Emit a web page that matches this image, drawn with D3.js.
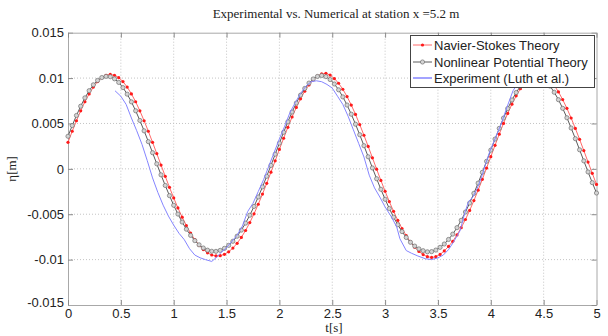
<!DOCTYPE html>
<html>
<head>
<meta charset="utf-8">
<script src="https://cdn.jsdelivr.net/npm/d3@7"></script>
<style>
  body { margin: 0; background: #fff; }
  .gridline { stroke: #c4c4c4; stroke-width: 1; stroke-dasharray: 1,2; }
  .tick-label { font-family: "Liberation Sans", Arial, sans-serif; font-size: 13px; fill: #222; }
</style>
</head>
<body>
<div id="chart"></div>
<script>
// time step of the simulated series (s)
var dtSim = 0.04;

var navierStokes = [
  0.00292, 0.00414, 0.00530, 0.00639, 0.00739, 0.00826, 0.00901, 0.00961, 0.01005, 0.01031,
  0.01040, 0.01031, 0.01005, 0.00961, 0.00901, 0.00826, 0.00739, 0.00639, 0.00530, 0.00414,
  0.00292, 0.00168, 0.00042, -0.00082, -0.00204, -0.00320, -0.00430, -0.00532, -0.00625, -0.00708,
  -0.00780, -0.00841, -0.00889, -0.00925, -0.00949, -0.00959, -0.00957, -0.00942, -0.00914, -0.00873,
  -0.00820, -0.00755, -0.00679, -0.00592, -0.00495, -0.00390, -0.00278, -0.00160, -0.00037, 0.00088,
  0.00214, 0.00337, 0.00457, 0.00571, 0.00677, 0.00772, 0.00856, 0.00925, 0.00981, 0.01022,
  0.01046, 0.01052, 0.01033, 0.00995, 0.00943, 0.00877, 0.00796, 0.00703, 0.00600, 0.00488,
  0.00370, 0.00247, 0.00122, -0.00004, -0.00127, -0.00247, -0.00361, -0.00468, -0.00567, -0.00657,
  -0.00736, -0.00806, -0.00864, -0.00910, -0.00945, -0.00968, -0.00976, -0.00968, -0.00943, -0.00904,
  -0.00855, -0.00798, -0.00728, -0.00648, -0.00558, -0.00458, -0.00350, -0.00235, -0.00115, 0.00009,
  0.00134, 0.00259, 0.00382, 0.00500, 0.00611, 0.00713, 0.00804, 0.00883, 0.00947, 0.00995,
  0.01026, 0.01039, 0.01035, 0.01013, 0.00974, 0.00919, 0.00848, 0.00763, 0.00667, 0.00560,
  0.00445, 0.00325, 0.00201, 0.00075, -0.00049, -0.00172
];

var nonlinearPotential = [
  0.00359, 0.00477, 0.00588, 0.00690, 0.00782, 0.00861, 0.00926, 0.00974, 0.01006, 0.01019,
  0.01015, 0.00992, 0.00952, 0.00895, 0.00823, 0.00738, 0.00640, 0.00533, 0.00419, 0.00300,
  0.00178, 0.00055, -0.00066, -0.00183, -0.00295, -0.00401, -0.00498, -0.00586, -0.00665, -0.00733,
  -0.00791, -0.00837, -0.00872, -0.00896, -0.00908, -0.00909, -0.00898, -0.00876, -0.00843, -0.00798,
  -0.00742, -0.00675, -0.00598, -0.00511, -0.00414, -0.00310, -0.00199, -0.00082, 0.00038, 0.00161,
  0.00283, 0.00403, 0.00518, 0.00626, 0.00725, 0.00812, 0.00886, 0.00945, 0.00990, 0.01018,
  0.01028, 0.01016, 0.00984, 0.00935, 0.00871, 0.00793, 0.00703, 0.00602, 0.00492, 0.00376,
  0.00255, 0.00133, 0.00010, -0.00109, -0.00225, -0.00335, -0.00437, -0.00532, -0.00616, -0.00691,
  -0.00756, -0.00809, -0.00851, -0.00882, -0.00902, -0.00914, -0.00912, -0.00895, -0.00865, -0.00828,
  -0.00778, -0.00719, -0.00648, -0.00567, -0.00476, -0.00377, -0.00270, -0.00157, -0.00038, 0.00083,
  0.00206, 0.00328, 0.00446, 0.00559, 0.00664, 0.00759, 0.00841, 0.00910, 0.00963, 0.00999,
  0.01018, 0.01018, 0.01000, 0.00964, 0.00912, 0.00844, 0.00762, 0.00667, 0.00563, 0.00450,
  0.00332, 0.00210, 0.00088, -0.00034, -0.00152, -0.00266
];

var expTime = [
  0.445, 0.50, 0.55, 0.60, 0.65, 0.70, 0.75, 0.80, 0.85, 0.90, 0.95, 1.00, 1.05, 1.10, 1.15,
  1.20, 1.25, 1.30, 1.36, 1.40, 1.45, 1.49, 1.55, 1.60, 1.65, 1.70, 1.75, 1.80, 1.85, 1.90,
  1.95, 2.00, 2.05, 2.10, 2.15, 2.20, 2.25, 2.30, 2.35, 2.40, 2.45, 2.50, 2.55, 2.60, 2.65,
  2.70, 2.75, 2.80, 2.85, 2.90, 2.95, 3.00, 3.06, 3.11, 3.14, 3.20, 3.25, 3.31, 3.38, 3.44,
  3.50, 3.55, 3.60, 3.645, 3.71, 3.755, 3.79, 3.83, 3.87, 3.91, 3.95, 3.99, 4.05, 4.10, 4.15,
  4.21, 4.26, 4.30
];
var expEta = [
  0.0086, 0.0080, 0.0071, 0.0056, 0.0042, 0.0027, 0.0009, -0.0010, -0.0026, -0.0040, -0.0052, -0.0062, -0.0071, -0.0078, -0.0088,
  -0.0095, -0.0098, -0.0100, -0.0102, -0.0098, -0.0092, -0.0088, -0.0080, -0.0073, -0.0063, -0.0047, -0.0038, -0.0025, -0.0012, 0.0003,
  0.0018, 0.0033, 0.0047, 0.0062, 0.0073, 0.0083, 0.0091, 0.0096, 0.0097, 0.0096, 0.0093, 0.0089, 0.0080, 0.0071, 0.0058,
  0.0043, 0.0028, 0.0013, -0.0007, -0.0021, -0.0031, -0.0042, -0.0053, -0.0064, -0.0077, -0.0090, -0.0093, -0.0096, -0.0099, -0.0100,
  -0.0098, -0.0095, -0.0089, -0.0081, -0.0068, -0.0048, -0.0036, -0.0031, -0.0022, -0.0010, 0.0005, 0.0019, 0.0036, 0.0050, 0.0067,
  0.0086, 0.0095, 0.0099
];

var xTicks = [0, 0.5, 1, 1.5, 2, 2.5, 3, 3.5, 4, 4.5, 5];
var yTicks = [-0.015, -0.01, -0.005, 0, 0.005, 0.01, 0.015];
var seriesNames = ["Navier-Stokes Theory", "Nonlinear Potential Theory", "Experiment (Luth et al.)"];

function drawChart() {
  var width = 608, height = 336;
  var pl = 68, pr = 596.5, pt = 32.7, pb = 305;

  var svg = d3.select("#chart")
    .append("svg")
    .attr("width", width)
    .attr("height", height)
    .style("background", "white");

  var x = d3.scaleLinear().domain([0, 5]).range([pl, pr]);
  var y = d3.scaleLinear().domain([-0.015, 0.015]).range([pb, pt]);

  // grid
  svg.append("g").selectAll("line")
    .data(xTicks.slice(1, -1))
    .enter().append("line")
    .attr("class", "gridline")
    .attr("x1", d => x(d)).attr("x2", d => x(d))
    .attr("y1", pt).attr("y2", pb);

  svg.append("g").selectAll("line")
    .data(yTicks.slice(1, -1))
    .enter().append("line")
    .attr("class", "gridline")
    .attr("x1", pl).attr("x2", pr)
    .attr("y1", d => y(d)).attr("y2", d => y(d));

  // axes (matlab style, ticks inside, all four sides)
  var fmtY = function (d) { return d === 0 ? "0" : String(+d.toFixed(3)); };

  var axL = svg.append("g").attr("transform", "translate(" + pl + ",0)")
    .call(d3.axisLeft(y).tickValues(yTicks).tickFormat(fmtY).tickSizeInner(-5).tickSizeOuter(0).tickPadding(4));
  var axB = svg.append("g").attr("transform", "translate(0," + pb + ")")
    .call(d3.axisBottom(x).tickValues(xTicks).tickFormat(d3.format("")).tickSizeInner(-5).tickSizeOuter(0).tickPadding(4));
  var axR = svg.append("g").attr("transform", "translate(" + pr + ",0)")
    .call(d3.axisRight(y).tickValues(yTicks).tickFormat("").tickSizeInner(-5).tickSizeOuter(0));
  var axT = svg.append("g").attr("transform", "translate(0," + pt + ")")
    .call(d3.axisTop(x).tickValues(xTicks).tickFormat("").tickSizeInner(-5).tickSizeOuter(0));

  [axL, axB, axR, axT].forEach(function (a) {
    a.select(".domain").attr("stroke", "#a8a8a8");
    a.selectAll(".tick line").attr("stroke", "#8a8a8a");
    a.selectAll("text").attr("class", "tick-label").attr("fill", "#222");
  });
  axL.select(".tick:first-of-type text").attr("dy", "0.1em");

  // data
  var simPts = function (vals) {
    return vals.map(function (v, i) { return { t: i * dtSim, v: v }; });
  };
  var red = simPts(navierStokes);
  var gray = simPts(nonlinearPotential);
  var blue = expTime.map(function (t, i) { return { t: t, v: expEta[i] }; });

  var line = d3.line().x(d => x(d.t)).y(d => y(d.v));

  svg.append("path").datum(red)
    .attr("fill", "none").attr("stroke", "#ff6a6a").attr("stroke-width", 1).attr("d", line);
  svg.append("g").selectAll("circle")
    .data(red).enter().append("circle")
    .attr("cx", d => x(d.t)).attr("cy", d => y(d.v)).attr("r", 1.6)
    .attr("fill", "#ff1a1a");

  svg.append("path").datum(gray)
    .attr("fill", "none").attr("stroke", "#5c5c5c").attr("stroke-width", 1).attr("d", line);
  svg.append("g").selectAll("circle")
    .data(gray).enter().append("circle")
    .attr("cx", d => x(d.t)).attr("cy", d => y(d.v)).attr("r", 2.1)
    .attr("fill", "#d4d4d4").attr("stroke", "#707070").attr("stroke-width", 0.7);

  svg.append("path").datum(blue)
    .attr("fill", "none").attr("stroke", "#8585ff").attr("stroke-width", 1).attr("d", line);

  // legend
  var lg = svg.append("g");
  lg.append("rect")
    .attr("x", 410.5).attr("y", 35.5).attr("width", 184).attr("height", 52)
    .attr("fill", "white").attr("stroke", "#444").attr("stroke-width", 1);
  var rows = [45, 62, 78];
  seriesNames.forEach(function (name, i) {
    var yy = rows[i];
    var col = ["#ff6a6a", "#5c5c5c", "#8585ff"][i];
    lg.append("line").attr("x1", 413).attr("x2", 432).attr("y1", yy).attr("y2", yy)
      .attr("stroke", col).attr("stroke-width", i === 2 ? 1.5 : 1);
    if (i === 0) {
      lg.append("circle").attr("cx", 422.5).attr("cy", yy).attr("r", 1.6).attr("fill", "#ff1a1a");
    } else if (i === 1) {
      lg.append("circle").attr("cx", 422.5).attr("cy", yy).attr("r", 2.1)
        .attr("fill", "#d4d4d4").attr("stroke", "#707070").attr("stroke-width", 0.7);
    }
    lg.append("text").attr("x", 434).attr("y", yy).attr("dy", "0.35em")
      .attr("class", "tick-label").attr("fill", "#111").text(name);
  });

  // title & labels
  svg.append("text")
    .attr("x", 336).attr("y", 18)
    .attr("text-anchor", "middle")
    .style("font-family", "'Liberation Serif', 'Times New Roman', serif")
    .style("font-size", "13px").attr("fill", "#222")
    .text("Experimental vs. Numerical at station x =5.2 m");

  svg.append("text")
    .attr("x", 334).attr("y", 332)
    .attr("text-anchor", "middle")
    .style("font-family", "'Liberation Serif', 'Times New Roman', serif")
    .style("font-size", "13px").attr("fill", "#222")
    .text("t[s]");

  svg.append("text")
    .attr("transform", "translate(16," + y(0) + ")rotate(-90)")
    .attr("text-anchor", "middle")
    .style("font-family", "'Liberation Serif', 'Times New Roman', serif")
    .style("font-size", "13px").attr("fill", "#222")
    .text("η[m]");
}

drawChart();
</script>
</body>
</html>
